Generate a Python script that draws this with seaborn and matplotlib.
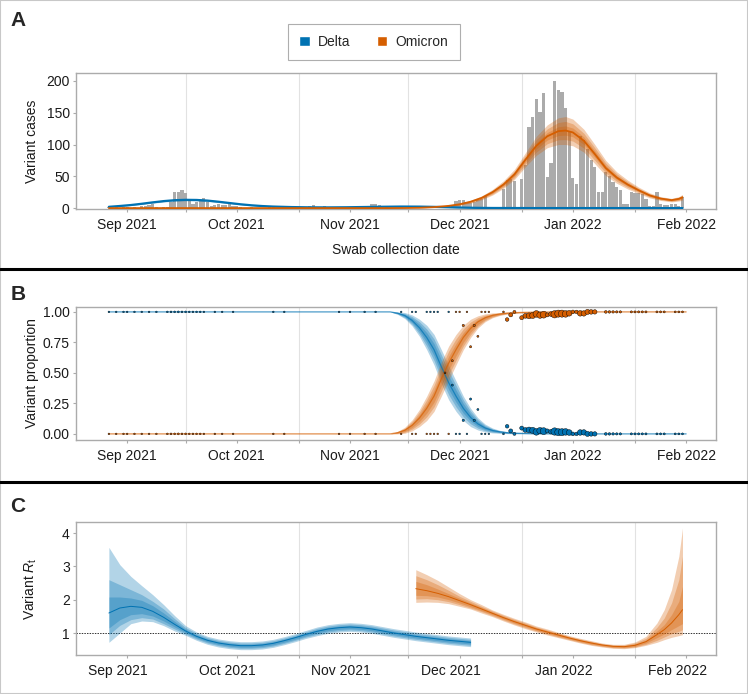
"""
Variant cases, proportions and reproduction numbers (Delta vs Omicron).
"""

import numpy as np
import pandas as pd
import matplotlib
matplotlib.use("Agg")
import matplotlib.pyplot as plt
import matplotlib.dates as mdates
from matplotlib.patches import Patch, Rectangle
from matplotlib.lines import Line2D
from matplotlib.transforms import ScaledTranslation
import seaborn as sns

sns.set_theme(style="white")
plt.rcParams["font.family"] = ["Liberation Sans", "DejaVu Sans"]
plt.rcParams["mathtext.fontset"] = "custom"
plt.rcParams["mathtext.rm"] = "Liberation Sans"
plt.rcParams["mathtext.it"] = "Liberation Sans:italic"

START = pd.Timestamp("2021-09-01")
DELTA_COLOR = "#0072B2"
OMICRON_COLOR = "#D55E00"
BAR_COLOR = "#ababab"
SPINE_COLOR = "#ababab"
GRID_COLOR = "#e2e2e2"

# all days are counted from 1 Sep 2021

# --- panel A: daily cases, 27 Aug 2021 .. 31 Jan 2022 ---
cases_first_day = -5
daily_cases = [
    2, 0, 1, 0, 1, 2, 0,
    1, 0, 3, 4, 5, 6, 2,
    0, 1, 2, 10, 26, 25, 28,
    23, 13, 7, 10, 11, 16, 9,
    4, 5, 6, 5, 5, 6, 4,
    3, 1, 0, 0, 1, 0, 0,
    0, 0, 1, 2, 0, 0, 1,
    0, 0, 0, 0, 0, 2, 4,
    5, 0, 0, 4, 0, 0, 1,
    2, 0, 0, 2, 0, 0, 1,
    3, 0, 6, 7, 5, 0, 1,
    0, 0, 0, 2, 0, 0, 1,
    1, 0, 0, 2, 1, 2, 1,
    0, 2, 3, 4, 11, 13, 12,
    8, 8, 9, 12, 15, 19, 0,
    0, 0, 0, 30, 44, 45, 42,
    0, 46, 67, 128, 143, 171, 151,
    181, 49, 71, 200, 185, 183, 158,
    120, 47, 38, 113, 107, 93, 75,
    65, 26, 26, 57, 51, 41, 33,
    28, 7, 7, 25, 24, 23, 22,
    14, 4, 3, 25, 7, 5, 5,
    7, 7, 4, 17,
]

# modelled Delta cases (median and half-widths of 95/80/50% intervals)
a_delta_day = [-5, -2, 1, 4, 7, 10, 13, 16, 19, 22, 25, 28, 31, 34, 37,
               40, 45, 50, 55, 60, 65, 70, 75, 80, 85, 90, 95, 100, 110, 152]
a_delta_med = [2.0, 3.3, 4.8, 6.8, 9.0, 11.0, 12.4, 13.0, 12.8, 11.8, 10.0, 8.0, 6.0, 4.4, 3.2,
               2.4, 1.6, 1.2, 1.1, 1.3, 1.7, 2.1, 2.4, 2.3, 1.8, 1.0, 0.4, 0.15, 0.03, 0.0]
a_delta_hw95 = [0.5, 0.7, 0.9, 1.1, 1.3, 1.5, 1.6, 1.7, 1.7, 1.6, 1.4, 1.2, 1.0, 0.8, 0.7,
                0.6, 0.5, 0.4, 0.4, 0.4, 0.5, 0.5, 0.6, 0.6, 0.5, 0.4, 0.2, 0.1, 0.0, 0.0]
a_delta_hw80 = [0.3, 0.45, 0.6, 0.7, 0.85, 1.0, 1.05, 1.1, 1.1, 1.05, 0.9, 0.8, 0.65, 0.5, 0.45,
                0.4, 0.3, 0.25, 0.25, 0.25, 0.3, 0.3, 0.4, 0.4, 0.3, 0.25, 0.12, 0.06, 0.0, 0.0]
a_delta_hw50 = [0.15, 0.2, 0.3, 0.35, 0.45, 0.5, 0.55, 0.55, 0.55, 0.5, 0.45, 0.4, 0.3, 0.25, 0.2,
                0.2, 0.15, 0.12, 0.12, 0.12, 0.15, 0.15, 0.2, 0.2, 0.15, 0.12, 0.06, 0.03, 0.0, 0.0]

# modelled Omicron cases
a_omi_day = [-5, 72, 76, 80, 84, 88, 91, 94, 97, 100, 103, 106, 109, 112, 115,
             118, 120, 122, 125, 128, 131, 134, 137, 140, 143, 146, 149, 151, 152]
a_omi_med = [0.0, 0.0, 0.1, 0.5, 1.5, 3.5, 6.0, 10.0, 16.0, 25.0, 37.0, 53.0, 76.0, 98.0, 113.0,
             121.0, 122.0, 119.0, 106.0, 85.0, 63.0, 48.0, 37.0, 28.0, 20.0, 15.0, 12.5, 14.5, 17.0]
a_omi_hw95 = [0.0, 0.0, 0.05, 0.2, 0.5, 1.0, 1.5, 2.2, 3.0, 4.5, 6.0, 8.0, 11.0, 15.0, 18.0,
              21.0, 22.0, 21.0, 18.0, 15.0, 12.0, 9.0, 7.0, 5.0, 4.0, 3.0, 2.8, 3.5, 4.5]
a_omi_hw80 = [0.0, 0.0, 0.03, 0.13, 0.3, 0.65, 1.0, 1.4, 2.0, 2.9, 3.9, 5.2, 7.2, 9.8, 11.7,
              13.6, 14.3, 13.6, 11.7, 9.8, 7.8, 5.8, 4.5, 3.2, 2.6, 2.0, 1.8, 2.3, 2.9]
a_omi_hw50 = [0.0, 0.0, 0.02, 0.07, 0.17, 0.33, 0.5, 0.7, 1.0, 1.5, 2.0, 2.6, 3.6, 5.0, 5.9,
              6.9, 7.3, 6.9, 5.9, 5.0, 4.0, 3.0, 2.3, 1.7, 1.3, 1.0, 0.9, 1.2, 1.5]

# --- panel B: modelled Delta share (Omicron share is the complement) ---
b_day = [-5, 72, 74, 76, 78, 80, 82, 84, 86, 88, 90, 92, 94, 96, 98,
         100, 102, 104, 107, 112, 120, 153]
b_delta_share = [1.0, 1.0, 0.99, 0.97, 0.93, 0.87, 0.79, 0.69, 0.55, 0.42, 0.31, 0.21, 0.135, 0.082, 0.048,
                 0.028, 0.017, 0.01, 0.005, 0.002, 0.0, 0.0]
b_hw95 = [0.0, 0.0, 0.01, 0.025, 0.045, 0.07, 0.1, 0.125, 0.14, 0.14, 0.125, 0.1, 0.075, 0.05, 0.032,
          0.02, 0.012, 0.008, 0.004, 0.001, 0.0, 0.0]
b_hw80 = [0.0, 0.0, 0.007, 0.017, 0.031, 0.049, 0.07, 0.088, 0.098, 0.098, 0.088, 0.07, 0.052, 0.035, 0.022,
          0.014, 0.008, 0.005, 0.003, 0.001, 0.0, 0.0]
b_hw50 = [0.0, 0.0, 0.004, 0.01, 0.018, 0.028, 0.04, 0.05, 0.056, 0.056, 0.05, 0.04, 0.03, 0.02, 0.013,
          0.008, 0.005, 0.003, 0.002, 0.0, 0.0, 0.0]

# sequenced samples per day
seq_day = [-5, -3, -1, 0, 2, 4, 6, 8,
           11, 12, 13, 14, 15, 16, 17, 18, 19, 20,
           21, 24, 26, 29, 40, 43, 58, 61, 65, 68,
           75, 78, 79, 82, 83, 84, 85,
           87, 88, 89, 90, 91, 92, 93, 94, 95, 96, 97, 98, 99,
           103, 104, 105, 106, 108, 109, 110, 111, 112, 113, 114, 115, 116, 117, 118,
           119, 120, 121, 122, 123, 124, 125, 126, 127, 128,
           131, 132, 133, 134, 135, 138, 139, 140, 141, 142, 145, 146, 147, 150, 151, 152]
seq_delta = [1, 1, 1, 1, 1, 1, 1, 1,
             2, 3, 3, 4, 3, 3, 2, 2, 2, 2,
             1, 1, 1, 1, 1, 1, 1, 1, 1, 1,
             1, 1, 1, 1, 1, 1, 1,
             1, 1, 2, 0, 0, 1, 0, 2, 1, 1, 0, 0, 0,
             0, 2, 1, 0, 2, 2, 3, 3, 2, 3, 3, 1, 1, 3, 2,
             2, 2, 1, 0, 0, 1, 1, 0, 0, 0,
             0, 0, 0, 0, 0, 0, 0, 0, 0, 0, 0, 0, 0, 0, 0, 0]
seq_omicron = [0, 0, 0, 0, 0, 0, 0, 0,
               0, 0, 0, 0, 0, 0, 0, 0, 0, 0,
               0, 0, 0, 0, 0, 0, 0, 0, 0, 0,
               0, 0, 0, 0, 0, 0, 0,
               1, 0, 3, 1, 1, 8, 1, 5, 8, 4, 1, 1, 1,
               3, 30, 40, 20, 40, 60, 90, 100, 120, 110, 130, 40, 55, 150, 140,
               140, 120, 90, 35, 30, 85, 80, 70, 55, 50,
               15, 12, 10, 8, 8, 6, 6, 6, 6, 6, 5, 5, 5, 4, 4, 4]

# --- panel C: variant Rt (median, 95/80/50% intervals) ---
c_delta_day = [-5, -2, 1, 4, 7, 10, 13, 16, 19, 22, 25, 28, 31, 34, 37, 40, 43,
               46, 49, 52, 55, 58, 61, 64, 67, 70, 73, 76, 79, 82, 85, 88, 91, 94]
c_delta_med = [1.60, 1.75, 1.80, 1.77, 1.65, 1.47, 1.26, 1.06, 0.90, 0.78, 0.70, 0.65, 0.62, 0.62, 0.64, 0.69, 0.77,
               0.86, 0.96, 1.05, 1.12, 1.16, 1.18, 1.16, 1.12, 1.06, 1.00, 0.95, 0.90, 0.86, 0.82, 0.78, 0.75, 0.72]
c_delta_lo95 = [0.72, 1.00, 1.28, 1.36, 1.34, 1.22, 1.06, 0.93, 0.78, 0.66, 0.58, 0.53, 0.50, 0.50, 0.52, 0.57, 0.65,
                0.74, 0.84, 0.92, 0.99, 1.03, 1.05, 1.03, 0.99, 0.93, 0.87, 0.82, 0.77, 0.73, 0.69, 0.65, 0.62, 0.59]
c_delta_hi95 = [3.57, 3.05, 2.70, 2.42, 2.15, 1.85, 1.52, 1.22, 1.03, 0.90, 0.82, 0.77, 0.74, 0.74, 0.76, 0.81, 0.89,
                0.98, 1.08, 1.18, 1.25, 1.29, 1.31, 1.29, 1.25, 1.19, 1.13, 1.08, 1.03, 0.99, 0.95, 0.91, 0.88, 0.85]
c_delta_lo80 = [0.95, 1.23, 1.40, 1.46, 1.42, 1.28, 1.12, 0.97, 0.82, 0.70, 0.62, 0.57, 0.54, 0.54, 0.56, 0.61, 0.69,
                0.78, 0.88, 0.96, 1.03, 1.07, 1.09, 1.07, 1.03, 0.97, 0.91, 0.86, 0.81, 0.77, 0.73, 0.69, 0.66, 0.63]
c_delta_hi80 = [2.60, 2.45, 2.30, 2.15, 1.95, 1.72, 1.43, 1.16, 0.99, 0.86, 0.78, 0.73, 0.70, 0.70, 0.72, 0.77, 0.85,
                0.94, 1.04, 1.14, 1.21, 1.25, 1.27, 1.25, 1.21, 1.15, 1.09, 1.04, 0.99, 0.95, 0.91, 0.87, 0.84, 0.81]
c_delta_lo50 = [1.15, 1.40, 1.55, 1.58, 1.51, 1.36, 1.18, 1.01, 0.855, 0.735, 0.655, 0.605, 0.575, 0.575, 0.595, 0.645, 0.725,
                0.815, 0.915, 1.00, 1.07, 1.11, 1.13, 1.11, 1.07, 1.01, 0.95, 0.90, 0.85, 0.81, 0.77, 0.73, 0.70, 0.67]
c_delta_hi50 = [2.08, 2.08, 2.05, 1.98, 1.82, 1.60, 1.35, 1.11, 0.945, 0.825, 0.745, 0.695, 0.665, 0.665, 0.685, 0.735, 0.815,
                0.905, 1.005, 1.10, 1.17, 1.21, 1.23, 1.21, 1.17, 1.11, 1.05, 1.00, 0.95, 0.91, 0.87, 0.83, 0.80, 0.77]

c_omi_day = [79, 82, 85, 88, 91, 94, 97, 100, 103, 106, 109, 112, 115, 118,
             121, 124, 127, 130, 133, 136, 139, 142, 145, 147, 149, 151, 152]
c_omi_med = [2.33, 2.27, 2.19, 2.09, 1.97, 1.85, 1.72, 1.59, 1.46, 1.34, 1.23, 1.12, 1.03, 0.94,
             0.85, 0.77, 0.70, 0.64, 0.60, 0.59, 0.63, 0.74, 0.95, 1.10, 1.30, 1.55, 1.70]
c_omi_lo95 = [1.92, 1.93, 1.92, 1.88, 1.80, 1.72, 1.60, 1.49, 1.36, 1.24, 1.13, 1.03, 0.94, 0.86,
              0.78, 0.70, 0.63, 0.58, 0.54, 0.53, 0.56, 0.63, 0.72, 0.80, 0.87, 0.92, 0.95]
c_omi_hi95 = [2.90, 2.75, 2.58, 2.38, 2.18, 2.00, 1.85, 1.69, 1.56, 1.44, 1.33, 1.21, 1.12, 1.02,
              0.92, 0.84, 0.77, 0.70, 0.66, 0.66, 0.73, 0.90, 1.30, 1.70, 2.30, 3.30, 4.15]
c_omi_lo80 = [2.02, 2.03, 2.00, 1.94, 1.85, 1.75, 1.64, 1.52, 1.39, 1.27, 1.16, 1.06, 0.97, 0.88,
              0.80, 0.72, 0.65, 0.60, 0.56, 0.55, 0.58, 0.66, 0.78, 0.88, 0.98, 1.05, 1.10]
c_omi_hi80 = [2.72, 2.60, 2.45, 2.28, 2.10, 1.95, 1.80, 1.66, 1.53, 1.41, 1.30, 1.18, 1.09, 1.00,
              0.90, 0.82, 0.75, 0.68, 0.64, 0.64, 0.70, 0.84, 1.17, 1.45, 1.90, 2.60, 3.30]
c_omi_lo50 = [2.13, 2.12, 2.08, 2.00, 1.90, 1.79, 1.67, 1.55, 1.42, 1.30, 1.19, 1.08, 0.99, 0.905,
              0.82, 0.74, 0.67, 0.615, 0.575, 0.565, 0.60, 0.70, 0.86, 0.97, 1.10, 1.22, 1.28]
c_omi_hi50 = [2.55, 2.45, 2.32, 2.18, 2.04, 1.90, 1.77, 1.63, 1.50, 1.38, 1.27, 1.16, 1.07, 0.975,
              0.88, 0.80, 0.73, 0.665, 0.625, 0.615, 0.67, 0.79, 1.06, 1.25, 1.55, 1.95, 2.40]

# vertical gridline dates
grid_dates = ["2021-09-17", "2021-10-18", "2021-11-17", "2021-12-18", "2022-01-18"]

XMIN = pd.Timestamp("2021-08-18")
XMAX = pd.Timestamp("2022-02-09 04:00")


def to_dates(days):
    return START + pd.to_timedelta(np.asarray(days, dtype=float), unit="D")


def draw_bands(ax, days, med, bands, color, lw=1.2, alpha=0.3, line_alpha=1.0):
    """Stacked interval ribbons with the median line on top."""
    x = to_dates(days)
    for lo, hi in bands:
        ax.fill_between(x, lo, hi, color=color, alpha=alpha, linewidth=0, zorder=2)
    sns.lineplot(x=x, y=np.asarray(med), ax=ax, color=color, linewidth=lw,
                 alpha=line_alpha, estimator=None, zorder=3)


def sym_bands(med, *hws):
    med = np.asarray(med)
    return [(med - np.asarray(h), med + np.asarray(h)) for h in hws]


def style_axis(ax):
    ax.set_xlim(XMIN, XMAX)
    ax.xaxis.set_major_locator(mdates.MonthLocator())
    ax.xaxis.set_major_formatter(mdates.DateFormatter("%b %Y"))
    ax.set_xticks(pd.to_datetime(grid_dates), minor=True)
    ax.grid(False)
    ax.grid(True, which="minor", axis="x", color=GRID_COLOR, linewidth=0.8, zorder=0)
    ax.set_axisbelow(True)
    for s in ax.spines.values():
        s.set_visible(True)
        s.set_color(SPINE_COLOR)
        s.set_linewidth(1.0)
    ax.tick_params(axis="both", which="both", bottom=True, left=True, length=2.5,
                   width=0.8, color=SPINE_COLOR, labelsize=10, labelcolor="#1a1a1a")
    ax.tick_params(axis="x", which="minor", labelbottom=False)
    ax.tick_params(axis="x", pad=4)
    ax.tick_params(axis="y", pad=2)
    ax.set_xlabel("")
    ax.yaxis.set_label_coords(-0.058, 0.5)


fig = plt.figure(figsize=(7.48, 6.94), dpi=100)

# ---- panel A ----
ax_a = fig.add_axes([0.1016, 0.6988, 0.8556, 0.1960])
case_dates = to_dates(np.arange(len(daily_cases)) + cases_first_day)
ax_a.bar(case_dates, daily_cases, width=0.88, color=BAR_COLOR, linewidth=0, zorder=1)
draw_bands(ax_a, a_delta_day, a_delta_med,
           sym_bands(a_delta_med, a_delta_hw95, a_delta_hw80, a_delta_hw50), DELTA_COLOR, lw=1.6)
draw_bands(ax_a, a_omi_day, a_omi_med,
           sym_bands(a_omi_med, a_omi_hw95, a_omi_hw80, a_omi_hw50), OMICRON_COLOR, lw=1.3)
style_axis(ax_a)
ax_a.set_ylim(-1.5, 212.5)
ax_a.set_yticks([0, 50, 100, 150, 200])
ax_a.set_ylabel("Variant cases", fontsize=10, color="#1a1a1a")
ax_a.set_xlabel("Swab collection date", fontsize=10, color="#1a1a1a", labelpad=8)

# ---- panel B ----
ax_b = fig.add_axes([0.1016, 0.3660, 0.8556, 0.1916])
delta_share = np.asarray(b_delta_share)
omi_share = 1.0 - delta_share  # shares sum to one
draw_bands(ax_b, b_day, delta_share,
           sym_bands(delta_share, b_hw95, b_hw80, b_hw50), DELTA_COLOR, lw=0.9, line_alpha=0.7)
draw_bands(ax_b, b_day, omi_share,
           sym_bands(omi_share, b_hw95, b_hw80, b_hw50), OMICRON_COLOR, lw=0.9, line_alpha=0.7)

seq_total = np.asarray(seq_delta) + np.asarray(seq_omicron)
points = pd.concat([
    pd.DataFrame({"date": to_dates(seq_day), "share": np.asarray(seq_delta) / seq_total,
                  "n": seq_total, "variant": "Delta"}),
    pd.DataFrame({"date": to_dates(seq_day), "share": np.asarray(seq_omicron) / seq_total,
                  "n": seq_total, "variant": "Omicron"}),
])
sns.scatterplot(data=points, x="date", y="share", hue="variant", size="n",
                palette={"Delta": DELTA_COLOR, "Omicron": OMICRON_COLOR},
                sizes=(1.5, 28), size_norm=(1, 153), edgecolor="black",
                linewidth=0.3, legend=False, ax=ax_b, zorder=5)
style_axis(ax_b)
ax_b.set_ylim(-0.05, 1.04)
ax_b.set_yticks([0, 0.25, 0.5, 0.75, 1.0])
ax_b.set_yticklabels(["0.00", "0.25", "0.50", "0.75", "1.00"])
ax_b.set_ylabel("Variant proportion", fontsize=10, color="#1a1a1a")

# ---- panel C ----
ax_c = fig.add_axes([0.1016, 0.0562, 0.8556, 0.1916])
ax_c.axhline(1, color="#333333", linewidth=0.7, linestyle=(0, (1.5, 1.2)), zorder=1)
draw_bands(ax_c, c_delta_day, c_delta_med,
           [(c_delta_lo95, c_delta_hi95), (c_delta_lo80, c_delta_hi80), (c_delta_lo50, c_delta_hi50)],
           DELTA_COLOR, lw=0.7)
draw_bands(ax_c, c_omi_day, c_omi_med,
           [(c_omi_lo95, c_omi_hi95), (c_omi_lo80, c_omi_hi80), (c_omi_lo50, c_omi_hi50)],
           OMICRON_COLOR, lw=0.7)
style_axis(ax_c)
ax_c.set_ylim(0.34, 4.33)
ax_c.set_yticks([1, 2, 3, 4])
ax_c.set_ylabel(r"Variant $\mathit{R}_{\mathrm{t}}$", fontsize=10, color="#1a1a1a")
shift = ScaledTranslation(-9 / 100, 0, fig.dpi_scale_trans)
for lab in ax_c.get_xticklabels():
    lab.set_transform(lab.get_transform() + shift)

# ---- figure furniture ----
for label, y in [("A", 0.970), ("B", 0.5757), ("C", 0.2702)]:
    fig.text(0.014, y, label, fontsize=15, fontweight="bold", ha="left", va="center")

for y in [0.6124, 0.3055]:
    fig.add_artist(Line2D([0, 1], [y, y], transform=fig.transFigure, color="black", linewidth=2.2))
fig.add_artist(Rectangle((0, 0), 1, 1, transform=fig.transFigure, fill=False,
                         edgecolor="#c8c8c8", linewidth=1.5))

leg = fig.legend(handles=[Patch(facecolor=DELTA_COLOR, label="Delta"),
                          Patch(facecolor=OMICRON_COLOR, label="Omicron")],
                 loc="center", bbox_to_anchor=(0.5, 0.940), ncol=2, frameon=True,
                 fancybox=False, edgecolor="#9a9a9a", fontsize=10, handlelength=0.75,
                 handleheight=0.75, handletextpad=0.6, columnspacing=1.9, borderpad=0.8)
leg.get_frame().set_linewidth(0.8)

fig.savefig("out.png", dpi=100)
